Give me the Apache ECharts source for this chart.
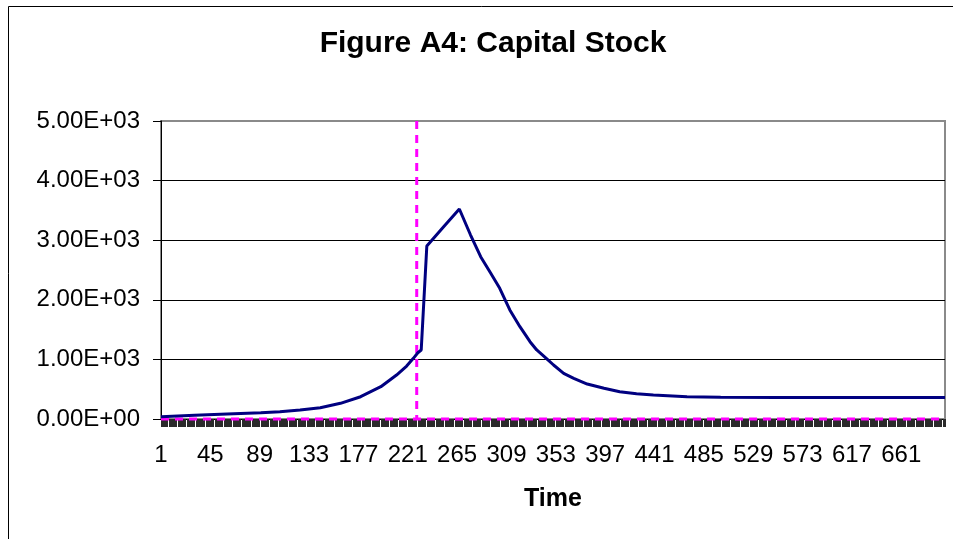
<!DOCTYPE html>
<html>
<head>
<meta charset="utf-8">
<script src="https://cdn.jsdelivr.net/npm/echarts@6/dist/echarts.min.js"></script>
<style>
html,body{margin:0;padding:0;background:#fff;}
#chart{width:953px;height:539px;}
</style>
</head>
<body>
<div id="chart"></div>
<script>
// ---- data ----
const chartTitle = 'Figure A4: Capital Stock';
const xAxisName = 'Time';
const firstTime = 1;
const lastTime = 700;
const labelStep = 44;           // tick labels 1, 45, 89, ... 661
const yTicks = [0, 1000, 2000, 3000, 4000, 5000];

// Capital stock
const capTime  = [1, 31, 60, 90, 107, 125, 143, 161, 179, 197, 211, 220, 226, 230, 233, 238, 253, 267, 277, 286, 295, 303, 312, 321, 330, 336, 345, 351, 360, 369, 381, 396, 410, 425, 440, 470, 500, 550, 600, 650, 700];
const capValue = [39, 62, 84, 106, 123, 151, 190, 263, 374, 542, 738, 889, 1018, 1112, 1158, 2903, 3226, 3523, 3087, 2723, 2444, 2193, 1829, 1549, 1297, 1158, 1010, 906, 767, 683, 587, 515, 458, 425, 403, 374, 364, 362, 361, 360, 360];

// Regime-change marker (dashed magenta): baseline at 0 and a vertical line at t = 229
const baseTime  = [1, 700];
const baseValue = [0, 0];
const breakTime  = [229, 229];
const breakValue = [5000, 0];

// ---- build ----
const categories = [];
for (let t = firstTime; t <= lastTime; t++) categories.push(String(t));

const pair = (xs, ys) => xs.map((x, i) => [x, ys[i]]);

function sci(v) {
  if (v === 0) return '0.00E+00';
  const e = Math.floor(Math.log10(Math.abs(v)));
  const m = v / Math.pow(10, e);
  return m.toFixed(2) + 'E' + (e < 0 ? '-' : '+') + String(Math.abs(e)).padStart(2, '0');
}

const FONT = '"Liberation Sans", Arial, sans-serif';
const MAGENTA = {color: '#ff00ff', width: 3, type: [8, 6]};
const chart = echarts.init(document.getElementById('chart'), null, {renderer: 'canvas'});

chart.setOption({
  animation: false,
  backgroundColor: '#fff',
  textStyle: {fontFamily: FONT},
  title: {
    text: chartTitle,
    left: 488, top: 24, textAlign: 'center',
    textStyle: {fontFamily: FONT, fontSize: 30, fontWeight: 'bold', color: '#000'}
  },
  graphic: [{
    type: 'rect', left: 6, top: 4, silent: true, z: -10,
    shape: {width: 960, height: 560},
    style: {fill: 'none', stroke: '#000', lineWidth: 1}
  }],
  grid: {
    left: 161, right: 8, top: 121, bottom: 120,
    show: true, borderColor: '#8a8a8a', borderWidth: 2, backgroundColor: '#fff'
  },
  xAxis: [{
    type: 'category',
    data: categories,
    boundaryGap: false,
    name: xAxisName,
    nameLocation: 'middle',
    nameGap: 68,
    nameTextStyle: {fontFamily: FONT, fontSize: 25, fontWeight: 'bold', color: '#000'},
    axisLine: {show: true, lineStyle: {color: '#000', width: 1}},
    axisTick: {show: true, interval: 0, length: 8, lineStyle: {color: '#2a2a2a', width: 1}},
    axisLabel: {
      interval: (index) => index % labelStep === 0,
      margin: 24, fontSize: 24, color: '#000', fontFamily: FONT
    },
    splitLine: {show: false}
  }, {
    type: 'value',
    min: firstTime, max: lastTime,
    show: false,
    splitLine: {show: false}
  }],
  yAxis: {
    type: 'value',
    min: yTicks[0], max: yTicks[yTicks.length - 1], interval: yTicks[1] - yTicks[0],
    axisLine: {show: true, lineStyle: {color: '#000', width: 1}},
    axisTick: {show: true, length: 8, lineStyle: {color: '#000'}},
    axisLabel: {formatter: sci, margin: 21, fontSize: 24, color: '#000', fontFamily: FONT},
    splitLine: {show: true, showMinLine: false, showMaxLine: false, lineStyle: {color: '#000', width: 1}}
  },
  series: [{
    type: 'line',
    xAxisIndex: 1,
    data: pair(baseTime, baseValue),
    showSymbol: false,
    clip: false,
    lineStyle: MAGENTA,
    z: 3
  }, {
    type: 'line',
    xAxisIndex: 1,
    data: pair(breakTime, breakValue),
    showSymbol: false,
    clip: false,
    lineStyle: MAGENTA,
    z: 3
  }, {
    type: 'line',
    xAxisIndex: 1,
    data: pair(capTime, capValue),
    showSymbol: false,
    lineStyle: {color: '#000080', width: 3},
    z: 4
  }]
});
</script>
</body>
</html>
